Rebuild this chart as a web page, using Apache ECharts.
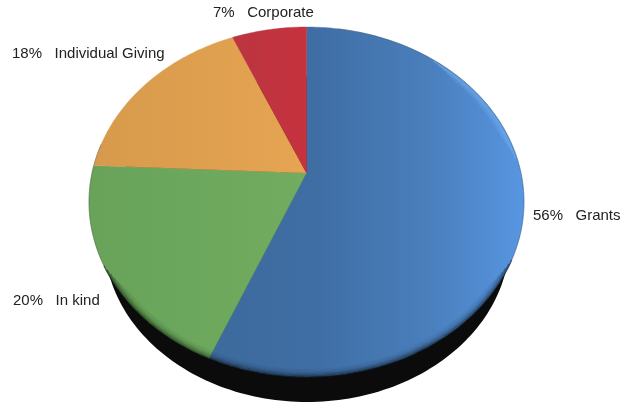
<!DOCTYPE html>
<html><head><meta charset="utf-8">
<style>html,body{margin:0;padding:0;background:#fff}#c{width:638px;height:402px}</style>
<script src="https://cdn.jsdelivr.net/npm/echarts@6/dist/echarts.min.js"></script>
</head><body><div id="c"></div>
<script>
const categories = ['Grants', 'In kind', 'Individual Giving', 'Corporate'];
const values = [56.3, 19.4, 17.8, 6.5];
const percentLabels = ['56%', '20%', '18%', '7%'];

const colorStops = [
  ['#3d6a9c', '#3f6ea5', '#4a7fbc', '#5796e2'],
  ['#68a359', '#6aa65b', '#6ea95e', '#71ac60'],
  ['#d79a4c', '#dc9e4e', '#e1a150', '#e7a553'],
  ['#bb3540', '#be343f', '#c2333f', '#c6323e']
];
const colorRange = [[205, 525], [90, 306], [95, 306], [232, 306]];
const labelAt = [[533, 216, 'left'], [13, 301, 'left'], [12, 54, 'left'], [213, 13, 'left']];

// Perspective view of the pie disc: the near edge is drawn larger than the far edge.
const view = { cx: 306.5, cy: 173, a: 214.5, b: 170.2, k: 0.1657 };
function project(theta, radius) {
  const u = Math.sin(theta) * radius, v = Math.cos(theta) * radius;
  const w = 1 + view.k * v;
  return [view.cx + view.a * u / w, view.cy - view.b * v / w];
}
function arcPoints(a0, a1, radius) {
  const n = Math.max(2, Math.ceil(Math.abs(a1 - a0) * 60)), pts = [];
  for (let i = 0; i <= n; i++) pts.push(project(a0 + (a1 - a0) * i / n, radius));
  return pts;
}
const total = values.reduce((s, v) => s + v, 0);
const toAngle = p => p / total * Math.PI * 2;

function renderSlice(params, api) {
  const i = params.dataIndex;
  const before = values.slice(0, i).reduce((s, v) => s + v, 0);
  const a0 = toAngle(before), a1 = toAngle(before + api.value(0));
  const pts = [project(0, 0)].concat(arcPoints(a0, a1, 1));
  const stops = colorStops[i];
  const fill = new echarts.graphic.LinearGradient(colorRange[i][0], 0, colorRange[i][1], 0,
    [{ offset: 0, color: stops[0] }, { offset: 0.35, color: stops[1] }, { offset: 0.7, color: stops[2] }, { offset: 1, color: stops[3] }], true);
  return { type: 'polygon', shape: { points: pts }, style: { fill, stroke: fill, lineWidth: 0.4 }, silent: true };
}
function renderBase() {
  const base = { cx: 307, cy: 239.25, rx: 202.7, ry: 162.75 }, pts = [];
  for (let i = 0; i < 240; i++) {
    const t = i / 240 * Math.PI * 2;
    pts.push([base.cx + base.rx * Math.cos(t), base.cy + base.ry * Math.sin(t)]);
  }
  return { type: 'polygon', shape: { points: pts }, style: { fill: '#0a0b0a' }, silent: true };
}
function renderRim() {
  const kids = [], deg = Math.PI / 180;
  // soft dark falloff along the near edge
  const falloff = [0.6, 0.42, 0.3, 0.2, 0.13, 0.08, 0.05, 0.03];
  falloff.forEach((alpha, i) => {
    const r = 1 - i * 0.0045;
    kids.push({ type: 'polyline', shape: { points: arcPoints((118 + i * 1.5) * deg, (240 - i * 1.5) * deg, r) },
      style: { fill: null, stroke: 'rgba(0,0,0,' + alpha + ')', lineWidth: 1.2 }, silent: true });
  });
  // bright band on the upper right edge
  for (let i = 0; i < 6; i++) {
    const r = 0.992 - i * 0.006;
    kids.push({ type: 'polyline', shape: { points: arcPoints((42 + i * 2) * deg, (85 - i * 2) * deg, r) },
      style: { fill: null, stroke: 'rgba(130,190,255,' + (0.35 - i * 0.055) + ')', lineWidth: 1.5 }, silent: true });
  }
  // thin grey outline on the outer edge
  kids.push({ type: 'polyline', shape: { points: arcPoints(10 * deg, 118 * deg, 1) },
    style: { fill: null, stroke: 'rgba(40,50,60,0.45)', lineWidth: 0.7 }, silent: true });
  kids.push({ type: 'polyline', shape: { points: arcPoints(240 * deg, 280 * deg, 1) },
    style: { fill: null, stroke: 'rgba(40,50,40,0.45)', lineWidth: 0.7 }, silent: true });
  return { type: 'group', children: kids };
}
function renderLabel(params) {
  const i = params.dataIndex, p = labelAt[i];
  return { type: 'text', x: p[0], y: p[1], silent: true,
    style: { text: percentLabels[i] + '   ' + categories[i], fill: '#222222',
      font: '15px "Liberation Sans", Arial, sans-serif', textAlign: p[2], textVerticalAlign: 'middle' } };
}
const asData = () => values.map((v, i) => ({ name: categories[i], value: [v] }));
const chart = echarts.init(document.getElementById('c'), null, { renderer: 'canvas' });
chart.setOption({
  animation: false,
  backgroundColor: '#ffffff',
  series: [
    { type: 'custom', coordinateSystem: 'none', z: 1, data: [[1]], renderItem: renderBase },
    { type: 'custom', coordinateSystem: 'none', z: 2, data: asData(), renderItem: renderSlice },
    { type: 'custom', coordinateSystem: 'none', z: 3, data: [[1]], renderItem: renderRim },
    { type: 'custom', coordinateSystem: 'none', z: 4, data: asData(), renderItem: renderLabel }
  ]
});
</script></body></html>
